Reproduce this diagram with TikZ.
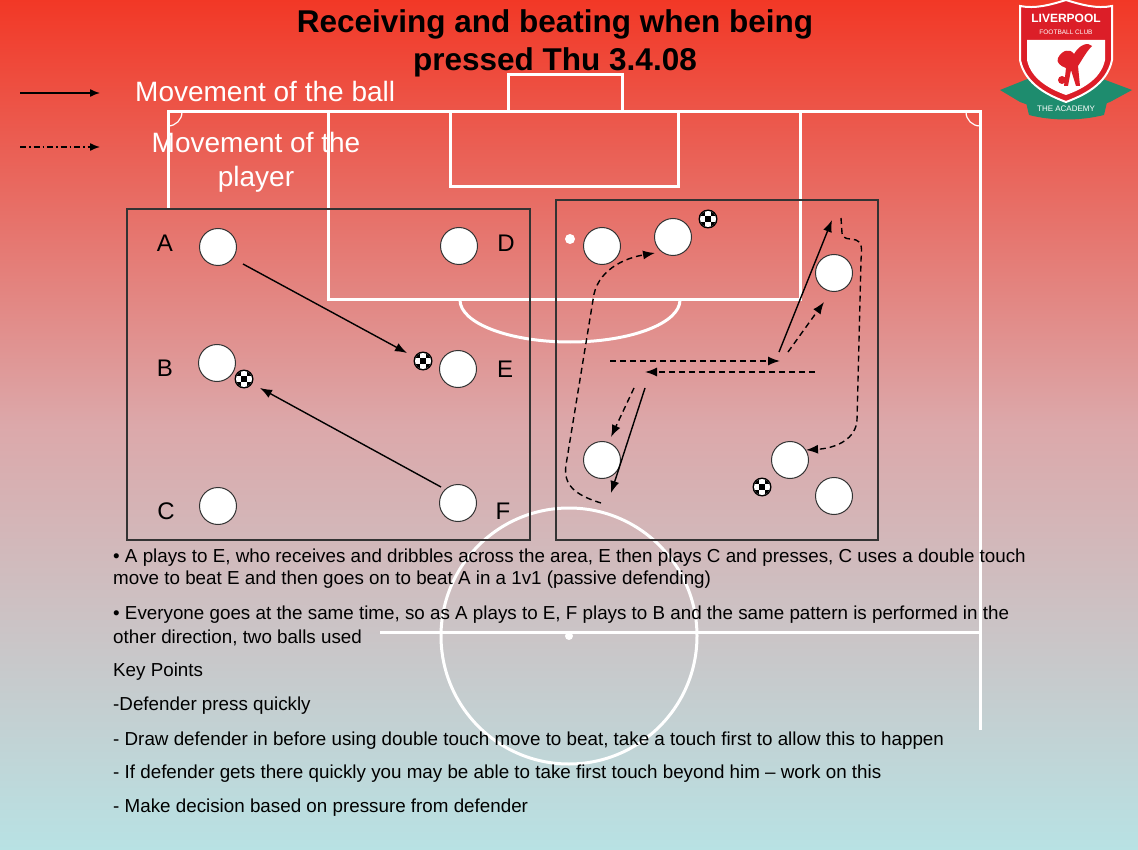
\documentclass[tikz,border=0pt]{standalone}
\usepackage{fontspec}
\setmainfont{Liberation Sans}
\usetikzlibrary{arrows.meta}
\definecolor{topred}{RGB}{242,56,38}
\definecolor{midpink}{RGB}{220,168,170}
\definecolor{botcyan}{RGB}{184,226,228}
\definecolor{lfcred}{RGB}{220,30,40}
\definecolor{lfcgreen}{RGB}{30,140,110}
\begin{document}
\begin{tikzpicture}[x=1pt,y=-1pt,
  pitch/.style={white,line width=3pt},
  player/.style={circle,draw=black!80,fill=white,minimum size=37pt,inner sep=0pt,line width=1pt},
  lbl/.style={font=\fontsize{24}{24}\selectfont},
  pass/.style={-{Latex[length=12pt,width=9pt]},line width=1.4pt},
  run/.style={-{Latex[length=12pt,width=9pt]},line width=1.4pt,dash pattern=on 6pt off 4pt},
  box/.style={draw=black!80,line width=1.2pt},
  btxt/.style={anchor=west,font=\fontsize{18.8}{18.8}\selectfont,inner sep=0pt}]
\useasboundingbox (0,0) rectangle (1138,850);
\shade[top color=topred,bottom color=botcyan,middle color=midpink] (0,0) rectangle (1138,850);
% pitch
\draw[pitch] (168,209) -- (168,112) -- (980,112) -- (980,730);
\draw[pitch] (380,632) -- (980,632);
\draw[pitch] (328,112) rectangle (800,300);
\draw[pitch] (450,112) rectangle (678,187);
\draw[pitch] (508,112) -- (508,75) -- (622,75) -- (622,112);
\draw[pitch] (460,300) arc[start angle=180,end angle=0,x radius=110,y radius=42];
\draw[pitch] (569,636) circle[radius=128];
\fill[white] (569,636) circle[radius=4];
\draw[white,line width=1.2pt] (168,126) arc[start angle=90,end angle=0,radius=14];
\draw[white,line width=1.2pt] (966,112) arc[start angle=180,end angle=90,radius=14];
% boxes
\draw[box] (127,209) rectangle (530,540);
\draw[box] (556,200) rectangle (878,540);
% left drill
\node[player] (A) at (218,247) {};
\node[player] (D) at (459,246) {};
\node[player] (B) at (217,363) {};
\node[player] (E) at (458,369) {};
\node[player] (C) at (218,506) {};
\node[player] (F) at (458,503) {};
\node[lbl] (lA) at (165,243) {A};
\node[lbl] (lD) at (506,243) {D};
\node[lbl] (lB) at (165,368) {B};
\node[lbl] (lE) at (505,369) {E};
\node[lbl] (lC) at (166,511) {C};
\node[lbl] (lF) at (503,511) {F};
\coordinate (b1) at (423,361);
\coordinate (b2) at (244,379);
\coordinate (b3) at (708,219);
\coordinate (b4) at (762,487);
\foreach \b in {b1,b2,b3,b4}{
  \fill[black] (\b) circle[radius=9.5];
  \fill[white] (\b) circle[radius=8];
  \begin{scope}
   \clip (\b) circle[radius=8];
   \fill[black] ([xshift=-2.7pt,yshift=-2.7pt]\b) rectangle ([xshift=2.7pt,yshift=2.7pt]\b);
   \fill[black] ([xshift=-8pt,yshift=-8pt]\b) rectangle ([xshift=-2.7pt,yshift=-2.7pt]\b);
   \fill[black] ([xshift=8pt,yshift=-8pt]\b) rectangle ([xshift=2.7pt,yshift=-2.7pt]\b);
   \fill[black] ([xshift=-8pt,yshift=8pt]\b) rectangle ([xshift=-2.7pt,yshift=2.7pt]\b);
   \fill[black] ([xshift=8pt,yshift=8pt]\b) rectangle ([xshift=2.7pt,yshift=2.7pt]\b);
  \end{scope}}
\coordinate (p1s) at (243,264); \coordinate (p1e) at (407,353);
\coordinate (p2s) at (441,487); \coordinate (p2e) at (260,388);
\draw[pass] (p1s) -- (p1e);
\draw[pass] (p2s) -- (p2e);
% right drill
\node[player] (R1) at (602,246) {};
\node[player] (R2) at (673,237) {};
\node[player] (R3) at (834,273) {};
\node[player] (R4) at (602,460) {};
\node[player] (R5) at (790,460) {};
\node[player] (R6) at (834,496) {};
\fill[white] (570,239) circle[radius=5];
\coordinate (s1) at (779,352); \coordinate (t1) at (832,220);
\coordinate (s2) at (645,388); \coordinate (t2) at (611,493);
\coordinate (s3) at (788,352); \coordinate (t3) at (824,302);
\coordinate (s4) at (634,388); \coordinate (t4) at (611,437);
\coordinate (s5) at (610,361); \coordinate (t5) at (780,361);
\coordinate (s6) at (815,372); \coordinate (t6) at (645,372);
\coordinate (s7) at (601,503); \coordinate (t7) at (655,253);
\coordinate (s8) at (841,218); \coordinate (t8) at (806,450);
\draw[pass] (s1) -- (t1);
\draw[pass] (s2) -- (t2);
\draw[run] (s3) -- (t3);
\draw[run] (s4) -- (t4);
\draw[run] (s5) -- (t5);
\draw[run] (s6) -- (t6);
\draw[run] (s7) .. controls (575,495) and (563,485) .. (566,465) -- (593,300) .. controls (596,270) and (625,258) .. (t7);
\draw[run] (s8) -- (842,233) .. controls (843,240) and (848,238) .. (856,240) .. controls (862,242) and (862,248) .. (861,260) -- (857,420) .. controls (856,438) and (838,448) .. (t8);
% title
\node[font=\bfseries\fontsize{31.5}{38}\selectfont,align=center] (title) at (555,43) {Receiving and beating when being\\pressed Thu 3.4.08};
% legend
\coordinate (la1) at (20,93); \coordinate (la2) at (100,93);
\coordinate (lb1) at (20,147); \coordinate (lb2) at (100,147);
\draw[-{Latex[length=10pt,width=8pt]},line width=1.4pt] (la1) -- (la2);
\draw[-{Latex[length=10pt,width=8pt]},line width=1.4pt,dash pattern=on 6pt off 3pt on 1.5pt off 3pt] (lb1) -- (lb2);
\node[white,anchor=west,font=\fontsize{28}{28}\selectfont,inner sep=0pt] (leg1) at (135,91) {Movement of the ball};
\node[white,align=center,font=\fontsize{28}{34}\selectfont,inner sep=0pt] (leg2) at (256,162) {Movement of the\\player};
% text
\node[btxt] (x1) at (113,558) {• A plays to E, who receives and dribbles across the area, E then plays C and presses, C uses a double touch};
\node[btxt] (x2) at (113,580) {move to beat E and then goes on to beat A in a 1v1 (passive defending)};
\node[btxt] (x3) at (113,615) {• Everyone goes at the same time, so as A plays to E, F plays to B and the same pattern is performed in the};
\node[btxt] (x4) at (113,638) {other direction, two balls used};
\node[btxt] (x5) at (113,672) {Key Points};
\node[btxt] (x6) at (113,706) {-Defender press quickly};
\node[btxt] (x7) at (113,741) {- Draw defender in before using double touch move to beat, take a touch first to allow this to happen};
\node[btxt] (x8) at (113,774) {- If defender gets there quickly you may be able to take first touch beyond him – work on this};
\node[btxt] (x9) at (113,808) {- Make decision based on pressure from defender};
% logo
\fill[lfcgreen] (1000,90) -- (1030,78) -- (1065,92) -- (1100,78) -- (1132,90) -- (1110,102) -- (1065,118) -- (1020,102) -- cycle;
\draw[white,line width=2pt,fill=lfcred] (1020,6) .. controls (1035,9) and (1050,5) .. (1066,0) .. controls (1082,5) and (1097,9) .. (1112,6) -- (1112,60) .. controls (1107,85) and (1082,96) .. (1066,102) .. controls (1050,96) and (1025,85) .. (1020,60) -- cycle;
\fill[white] (1027,40) -- (1105,40) -- (1105,60) .. controls (1101,80) and (1080,90) .. (1066,95) .. controls (1052,90) and (1031,80) .. (1027,60) -- cycle;
% liver bird (simplified)
\fill[lfcred] (1058,58) .. controls (1062,50) and (1070,48) .. (1074,54) .. controls (1080,44) and (1088,42) .. (1092,46) .. controls (1086,52) and (1082,60) .. (1078,66) -- (1080,86) -- (1076,86) -- (1071,70) -- (1068,86) -- (1064,86) -- (1066,68) .. controls (1060,66) and (1056,62) .. (1058,58) -- cycle;
\fill[lfcred] (1062,80) circle[radius=4];
\node[white,font=\bfseries\fontsize{12}{12}\selectfont,inner sep=0pt] (lg1) at (1066,18) {LIVERPOOL};
\node[white,font=\fontsize{6.5}{7}\selectfont,inner sep=0pt] (lg2) at (1066,32) {FOOTBALL CLUB};
\fill[lfcgreen] (1025,98) .. controls (1050,106) and (1082,106) .. (1108,98) -- (1104,115) .. controls (1080,121) and (1052,121) .. (1029,115) -- cycle;
\node[white,font=\fontsize{8}{8}\selectfont,inner sep=0pt] (lg3) at (1066,109) {THE ACADEMY};
\end{tikzpicture}
\end{document}
